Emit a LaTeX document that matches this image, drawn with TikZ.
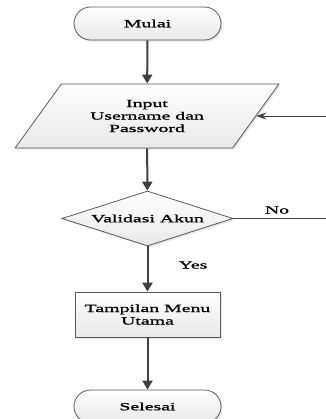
\documentclass[tikz,border=0pt]{standalone}
\usepackage{fontspec}
\newfontfamily\flowfont[FakeStretch=1.8,FakeBold=1.2]{Liberation Serif}
\usetikzlibrary{shapes.geometric,arrows.meta,shadows}
\definecolor{linegray}{HTML}{404040}
\definecolor{edgegray}{HTML}{5A5A5A}

\tikzset{
  flowtext/.style={font=\flowfont\fontsize{5.5}{6.25}\selectfont, align=center},
  box/.style={flowtext, draw=edgegray, line width=.4pt, top color=white, bottom color=black!9,
    drop shadow={opacity=.2, shadow xshift=.8pt, shadow yshift=-.8pt}, inner sep=0pt},
  terminal/.style={box, rectangle, rounded corners=8.25pt, minimum width=73.5pt, minimum height=16.5pt},
  io/.style={box, trapezium, trapezium left angle=46.4, trapezium right angle=133.6,
    trapezium stretches=true, minimum width=132pt, minimum height=32pt},
  decision/.style={box, diamond, aspect=3.1, minimum width=85.5pt, minimum height=27.5pt},
  process/.style={box, rectangle, minimum width=72.5pt, minimum height=22.5pt},
  flow/.style={draw=linegray, line width=1pt, -{Triangle[length=4.5pt,width=5pt]}},
  feedline/.style={draw=linegray, line width=.5pt}
}

\begin{document}
\begin{tikzpicture}[x=.5pt, y=-.5pt]
\useasboundingbox (0,0) rectangle (326,419);
\coordinate (rim) at (326,0);

\node [terminal] (mulai) at (147.5,23.5) {Mulai};
\node [io] (input) at (147,116) {Input\\Username dan\\Password};
\node [decision] (validasi) at (147.5,218.5) {Validasi Akun};
\node [process] (menu) at (147.5,314.5) {Tampilan Menu\\Utama};
\node [terminal] (selesai) at (147.5,406.5) {Selesai};

\draw [flow] (mulai) -- (input);
\draw [flow] (input) -- (validasi);
\draw [flow] (validasi) -- (menu);
\draw [flow] (menu) -- (selesai);

% jalur kembali ke input
\draw [feedline] (validasi.east) -- (validasi.east -| rim);
\draw [feedline, -{Stealth[length=5pt,width=3.5pt]}] (input.east -| rim) -- (input.east);

\node [flowtext] (no) at (277,210) {No};
\node [flowtext] (yes) at (193,265) {Yes};
\end{tikzpicture}
\end{document}
